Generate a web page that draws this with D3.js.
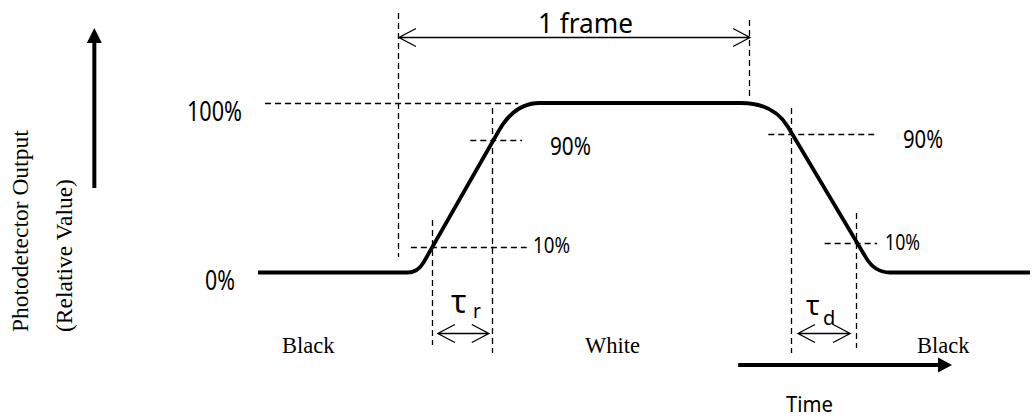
<!DOCTYPE html>
<html>
<head>
<meta charset="utf-8">
<script src="https://cdn.jsdelivr.net/npm/d3@7"></script>
<style>
  body { margin: 0; background: #fff; }
  .sans { font-family: "Noto Sans", "DejaVu Sans", sans-serif; fill: #000; }
  .serif { font-family: "Liberation Serif", "DejaVu Serif", serif; fill: #000; }
  .guide { stroke: #000; stroke-width: 1.3; stroke-dasharray: 6,4; fill: none; }
  .thin { stroke: #000; stroke-width: 1.3; fill: none; }
</style>
</head>
<body>
<svg id="plate" width="1035" height="418"></svg>
<script>
// waveform vertices: time (arbitrary units) vs output (%)
var waveT = [0, 20.7, 33.25, 66.8, 79.9, 100];
var waveV = [0, 0, 100, 100, 0, 0];

// dashed guide lines
var vGuideT  = [18.26, 63.73, 22.54, 30.44, 69.17, 77.59];
var vGuideV0 = [153.1, 149.0, 31.0, 97.1, 97.1, 35.1];
var vGuideV1 = [9.1, 101.8, -42.8, -47.5, -47.5, -44.5];

var hGuideV  = [100, 77.6, 14.5, 81.7, 17.4];
var hGuideT0 = [0.91, 27.5, 19.8, 66.1, 73.4];
var hGuideT1 = [33.7, 34.2, 34.8, 79.9, 80.2];

// double arrows: frame, tau r, tau d
var spanT0 = [18.26, 23.3, 69.95];
var spanT1 = [63.73, 29.9, 76.7];
var spanV  = [138.5, -35.7, -35.7];

var levelLabels = ['100%', '0%', '90%', '10%', '90%', '10%'];
var stateLabels = ['Black', 'White', 'Black'];
var yTitle = ['Photodetector Output', '(Relative Value)'];

var svg = d3.select('#plate');

// set the ranges
var x = d3.scaleLinear().domain([0, 100]).range([258, 1030]);
var y = d3.scaleLinear().domain([0, 100]).range([272.5, 103]);
// snap thin lines onto the pixel grid so they stay dark
function crisp(v) { return Math.round(v - 0.5) + 0.5; }

// dashed vertical guides
svg.selectAll('line.vg')
    .data(vGuideT)
    .enter().append('line')
    .attr('class', 'guide vg')
    .attr('x1', function(d) { return crisp(x(d)); })
    .attr('x2', function(d) { return crisp(x(d)); })
    .attr('y1', function(d, i) { return y(vGuideV0[i]); })
    .attr('y2', function(d, i) { return y(vGuideV1[i]); });

// dashed horizontal guides
svg.selectAll('line.hg')
    .data(hGuideV)
    .enter().append('line')
    .attr('class', 'guide hg')
    .attr('stroke-dasharray', '5,3.5')
    .attr('x1', function(d, i) { return x(hGuideT0[i]); })
    .attr('x2', function(d, i) { return x(hGuideT1[i]); })
    .attr('y1', function(d) { return crisp(y(d)); })
    .attr('y2', function(d) { return crisp(y(d)); });

// waveform with rounded corners
var radii = [null, [10, 12], [32, 25], [33, 28], [17, 15], null];
var pts = waveT.map(function(t, i) { return [x(t), y(waveV[i])]; });
var p = d3.path();
p.moveTo(pts[0][0], pts[0][1]);
for (var i = 1; i < pts.length - 1; i++) {
    var a = pts[i - 1], b = pts[i], c = pts[i + 1], r = radii[i];
    var d1 = Math.hypot(b[0] - a[0], b[1] - a[1]);
    var d2 = Math.hypot(c[0] - b[0], c[1] - b[1]);
    p.lineTo(b[0] - (b[0] - a[0]) * r[0] / d1, b[1] - (b[1] - a[1]) * r[0] / d1);
    p.quadraticCurveTo(b[0], b[1], b[0] + (c[0] - b[0]) * r[1] / d2, b[1] + (c[1] - b[1]) * r[1] / d2);
}
p.lineTo(pts[pts.length - 1][0], pts[pts.length - 1][1]);
svg.append('path')
    .attr('d', p.toString())
    .attr('fill', 'none')
    .attr('stroke', '#000')
    .attr('stroke-width', 3.8)
    .attr('stroke-linejoin', 'round');

// open double-headed arrows
spanV.forEach(function(v, i) {
    var x0 = x(spanT0[i]), x1 = x(spanT1[i]), yy = crisp(y(v));
    var hl = 17, hw = 9;
    svg.append('path')
        .attr('class', 'thin')
        .attr('d', 'M' + x0 + ',' + yy + 'L' + x1 + ',' + yy +
            'M' + (x0 + hl) + ',' + (yy - hw) + 'L' + x0 + ',' + yy + 'L' + (x0 + hl) + ',' + (yy + hw) +
            'M' + (x1 - hl) + ',' + (yy - hw) + 'L' + x1 + ',' + yy + 'L' + (x1 - hl) + ',' + (yy + hw));
});

// thick arrows: time axis and output axis
var tx0 = x(62.2), tx1 = x(89.9), ty = y(-54.6);
svg.append('line')
    .attr('x1', tx0).attr('x2', tx1 - 10).attr('y1', ty).attr('y2', ty)
    .attr('stroke', '#000').attr('stroke-width', 4);
svg.append('path')
    .attr('d', 'M' + tx1 + ',' + ty + 'L' + (tx1 - 14) + ',' + (ty - 7.5) + 'L' + (tx1 - 14) + ',' + (ty + 7.5) + 'Z')
    .attr('fill', '#000');

var ax = x(-21.2), ay0 = y(49.8), ay1 = y(144.2);
svg.append('line')
    .attr('x1', ax).attr('x2', ax).attr('y1', ay0).attr('y2', ay1 + 10)
    .attr('stroke', '#000').attr('stroke-width', 4);
svg.append('path')
    .attr('d', 'M' + ax + ',' + ay1 + 'L' + (ax - 7.5) + ',' + (ay1 + 15) + 'L' + (ax + 7.5) + ',' + (ay1 + 15) + 'Z')
    .attr('fill', '#000');

// sans labels (narrow lettering as in the reference)
function sansText(str, px, py, size, len) {
    svg.append('text')
        .attr('class', 'sans')
        .attr('x', px).attr('y', py)
        .attr('font-size', size)
        .attr('textLength', len)
        .attr('lengthAdjust', 'spacingAndGlyphs')
        .text(str);
}
sansText('1 frame', 538, 33, 28, 95);
sansText(levelLabels[0], 187, 121, 28, 55);
sansText(levelLabels[1], 205, 290, 28, 30);
sansText(levelLabels[2], 550, 155, 25, 41);
sansText(levelLabels[3], 533, 253, 22, 37);
sansText(levelLabels[4], 903, 148, 25, 40);
sansText(levelLabels[5], 885, 250, 22, 35);
sansText('Time', 786, 412, 21, 47);

// tau symbols
svg.append('text').attr('class', 'sans').attr('x', 451).attr('y', 313).attr('font-size', 32).text('\u03c4');
svg.append('text').attr('class', 'sans').attr('x', 473).attr('y', 318).attr('font-size', 19).text('r');
svg.append('text').attr('class', 'sans').attr('x', 806).attr('y', 315).attr('font-size', 28).text('\u03c4');
svg.append('text').attr('class', 'sans').attr('x', 823).attr('y', 325).attr('font-size', 20).text('d');

// state labels
var stateX = [282, 585, 917];
svg.selectAll('text.state')
    .data(stateLabels)
    .enter().append('text')
    .attr('class', 'serif state')
    .attr('x', function(d, i) { return stateX[i]; })
    .attr('y', 353)
    .attr('font-size', 22.5)
    .text(function(d) { return d; });

// rotated y title
var titleX = [28, 72];
svg.selectAll('text.ytitle')
    .data(yTitle)
    .enter().append('text')
    .attr('class', 'serif ytitle')
    .attr('transform', function(d, i) { return 'translate(' + titleX[i] + ',332) rotate(-90)'; })
    .attr('font-size', 23.5)
    .text(function(d) { return d; });
</script>
</body>
</html>
